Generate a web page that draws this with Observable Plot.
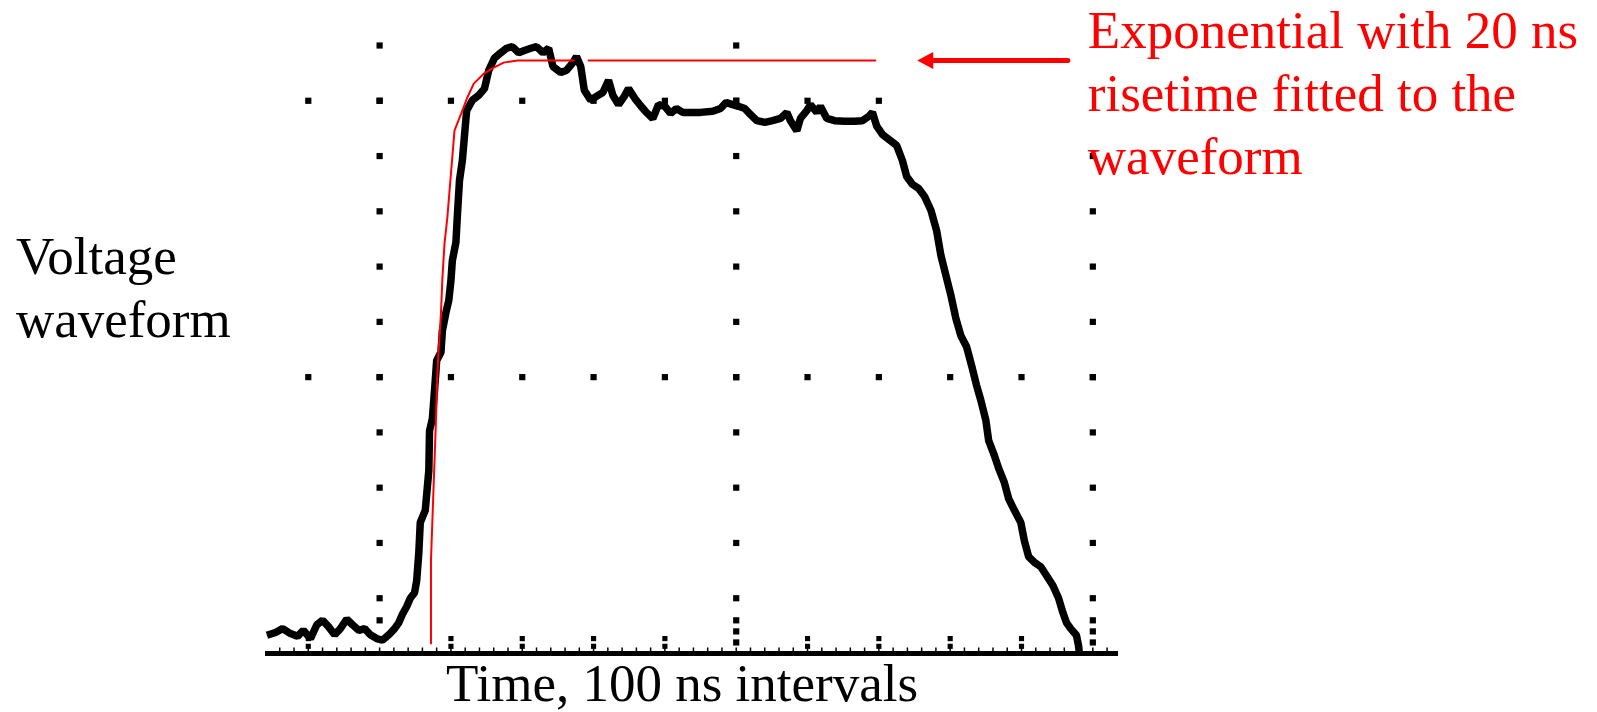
<!DOCTYPE html>
<html>
<head>
<meta charset="utf-8">
<script src="https://cdn.jsdelivr.net/npm/d3@7"></script>
<script src="https://cdn.jsdelivr.net/npm/@observablehq/plot@0.6"></script>
<style>
  html, body { margin: 0; padding: 0; background: #ffffff; }
  #chart { width: 1597px; height: 712px; overflow: hidden; }
</style>
</head>
<body>
<div id="chart"></div>
<script>
// ---- Data (time in ns, voltage in graticule divisions) ----
const waveform = [
  [-158,0.33],[-146,0.38],[-136,0.45],[-125,0.36],[-115,0.31],[-107,0.42],[-97,0.27],[-88,0.52],[-80,0.60],[-72,0.49],
  [-63,0.34],[-55,0.45],[-46,0.62],[-38,0.52],[-29,0.42],[-21,0.45],[-13,0.34],[-4,0.27],[4,0.24],[13,0.34],
  [21,0.45],[27,0.56],[32,0.71],[38,0.85],[43,1.00],[49,1.10],[52,1.32],[55,1.83],[57,2.37],[64,2.59],
  [69,3.31],[70,4.03],[74,4.25],[77,4.76],[80,5.30],[86,5.45],[88,5.84],[93,6.17],[97,6.39],[100,6.75],
  [102,7.11],[107,7.44],[109,7.92],[112,8.56],[116,8.92],[119,9.37],[122,9.82],[130,10.01],[139,10.10],[147,10.22],
  [153,10.55],[161,10.77],[170,10.87],[178,10.95],[186,10.98],[195,10.87],[203,10.91],[212,10.95],[220,10.98],[229,10.87],
  [237,10.95],[243,10.62],[254,10.51],[262,10.55],[271,10.69],[276,10.80],[282,10.62],[287,10.19],[296,10.01],[304,10.08],
  [313,10.15],[321,10.37],[327,10.10],[335,9.93],[343,10.08],[349,10.22],[358,10.04],[366,9.91],[374,9.79],[383,9.68],
  [391,9.93],[400,9.90],[408,9.77],[416,9.86],[425,9.79],[436,9.79],[450,9.79],[467,9.81],[478,9.86],[486,9.97],
  [495,9.93],[503,9.90],[512,9.86],[520,9.75],[529,9.64],[540,9.61],[551,9.64],[562,9.68],[571,9.79],[576,9.64],
  [585,9.46],[590,9.68],[599,9.82],[604,9.93],[613,9.79],[618,9.90],[627,9.68],[638,9.64],[652,9.63],[666,9.63],
  [677,9.64],[686,9.72],[691,9.79],[697,9.54],[705,9.39],[716,9.28],[725,9.19],[733,8.92],[739,8.63],[747,8.49],
  [756,8.41],[764,8.27],[773,8.02],[781,7.65],[787,7.20],[794,6.84],[801,6.48],[808,6.06],[815,5.75],[823,5.55],
  [831,5.16],[837,4.85],[843,4.58],[850,4.22],[854,3.85],[862,3.58],[868,3.35],[876,3.09],[882,2.80],[890,2.59],
  [899,2.37],[904,2.04],[910,1.75],[918,1.65],[927,1.57],[935,1.41],[944,1.23],[952,1.00],[958,0.74],[963,0.56],
  [969,0.45],[977,0.33],[980,0.14],[981,0.02]
];

// Exponential fit (red)
const fitRise = [
  [72,0.18],[72,1.68],[74,2.41],[76,3.13],[79,4.22],[81,5.07],[83,5.54],[86,6.15],[88,6.78],[91,7.42],
  [95,7.89],[100,8.68],[105,9.46],[116,9.82],[123,10.06],[132,10.31],[146,10.49],[160,10.60],[174,10.69],[193,10.73],
  [272,10.73]
];
const fitPlateau = [[293,10.73],[695,10.73]];

// Graticule
const majorCols = [0, 500, 1000];
const colLevels = [1,2,3,4,5,6,7,8,9,10,11];
const bottomSubLevels = [0.2, 0.4, 0.6];
const centreRowTimes = [-100,0,100,200,300,400,500,600,700,800,900,1000];
const upperRowTimes = [-100,0,100,200,300,400,500,600,700];
const bottomTickTimes = [-100,100,200,300,400,600,700,800,900];
const minorAxisTimes = d3.range(-140, 1040, 20);

// Annotations
const yLabel = [{t: -510, v: 5.72, text: "Voltage\nwaveform"}];
const xLabel = [{t: 424, v: -0.86, text: "Time, 100 ns intervals"}];
const note = [{t: 993, v: 8.68, text: "Exponential with 20 ns\nrisetime fitted to the\nwaveform"}];
const arrowShaft = [[765,10.73],[965,10.73]];
const arrowHead = [[765,10.73]];

// ---- Build graticule dot table ----
const gridDots = [];
for (const c of majorCols) {
  const lv = c === 1000 ? colLevels.filter(d => d <= 9) : colLevels;
  for (const v of lv) gridDots.push([c, v]);
  for (const v of bottomSubLevels) if (c !== 0 || v === 0.6) gridDots.push([c, v]);
}
for (const t of centreRowTimes) gridDots.push([t, 5]);
for (const t of upperRowTimes) gridDots.push([t, 10]);
const bottomDots = [];
for (const t of bottomTickTimes) { bottomDots.push([t, 0.27]); bottomDots.push([t, 0.13]); }

const leftTriangle = {
  draw(context, size) {
    const r = Math.sqrt(size / Math.PI);
    context.moveTo(-r, 0);
    context.lineTo(r, -r * 1.06);
    context.lineTo(r, r * 1.06);
    context.closePath();
  }
};

const font = "'Liberation Serif', 'Times New Roman', Times, serif";

const chart = Plot.plot({
  width: 1597,
  height: 712,
  marginLeft: 265,
  marginRight: 479,
  marginTop: 45,
  marginBottom: 59,
  x: {domain: [-160, 1036], axis: null},
  y: {domain: [0, 11], axis: null},
  style: {background: "#ffffff", fontFamily: font, overflow: "visible"},
  marks: [
    Plot.ruleY([0], {stroke: "#000", strokeWidth: 5}),
    Plot.ruleX(minorAxisTimes, {x: d => d, y1: 0, y2: 0.1, stroke: "#000", strokeWidth: 1.5}),
    Plot.dot(gridDots, {x: d => d[0], y: d => d[1], symbol: "square", r: 3.5, fill: "#000", stroke: "none"}),
    Plot.dot(bottomDots, {x: d => d[0], y: d => d[1], symbol: "square", r: 2.9, fill: "#000", stroke: "none"}),
    Plot.line(waveform, {x: d => d[0], y: d => d[1], stroke: "#000", strokeWidth: 7.5, strokeLinejoin: "miter", strokeLinecap: "butt"}),
    Plot.line(fitRise, {x: d => d[0], y: d => d[1], stroke: "#ff0000", strokeWidth: 2}),
    Plot.line(fitPlateau, {x: d => d[0], y: d => d[1], stroke: "#ff0000", strokeWidth: 2}),
    Plot.line(arrowShaft, {x: d => d[0], y: d => d[1], stroke: "#ff0000", strokeWidth: 5}),
    Plot.dot(arrowHead, {x: d => d[0], y: d => d[1], symbol: leftTriangle, r: 8, fill: "#ff0000", stroke: "none"}),
    Plot.text(yLabel, {x: "t", y: "v", text: "text", fill: "#000000", textAnchor: "start", lineAnchor: "bottom", lineHeight: 1.2, fontSize: 53, fontFamily: font}),
    Plot.text(xLabel, {x: "t", y: "v", text: "text", fill: "#000000", textAnchor: "middle", lineAnchor: "bottom", lineHeight: 1, fontSize: 53, fontFamily: font}),
    Plot.text(note, {x: "t", y: "v", text: "text", fill: "#ff0000", textAnchor: "start", lineAnchor: "bottom", lineHeight: 1.19, fontSize: 53, fontFamily: font})
  ]
});
document.getElementById("chart").appendChild(chart);
</script>
</body>
</html>
